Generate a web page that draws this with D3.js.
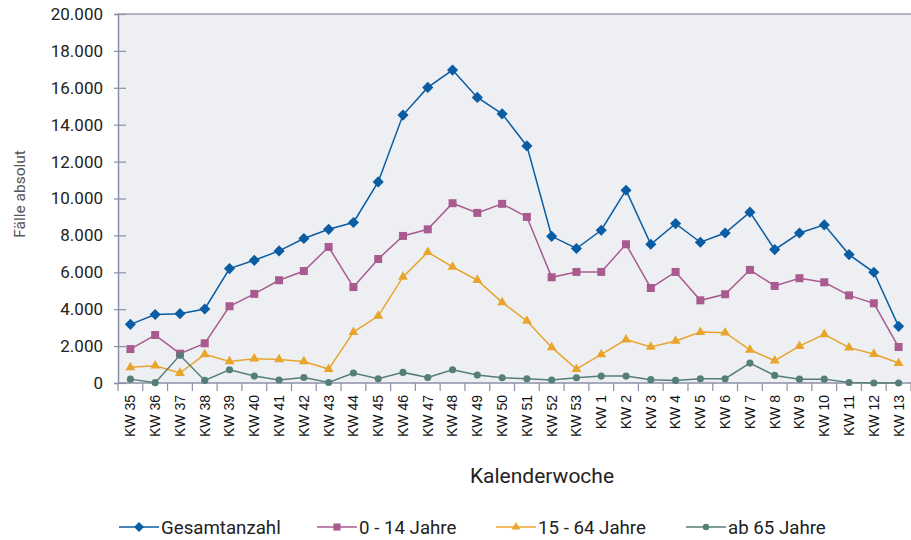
<!DOCTYPE html>
<html>
<head>
<meta charset="utf-8">
<script src="https://cdn.jsdelivr.net/npm/d3@7"></script>
<style>
  body { margin: 0; background: #fff; }
  text { font-family: Roboto, "Liberation Sans", sans-serif; }
</style>
</head>
<body>
<div id="chart"></div>
<script>
// categories (Kalenderwochen)
const weeks = ["KW 35","KW 36","KW 37","KW 38","KW 39","KW 40","KW 41","KW 42","KW 43","KW 44",
  "KW 45","KW 46","KW 47","KW 48","KW 49","KW 50","KW 51","KW 52","KW 53","KW 1","KW 2","KW 3",
  "KW 4","KW 5","KW 6","KW 7","KW 8","KW 9","KW 10","KW 11","KW 12","KW 13"];

// series values
const gesamt = [3180,3710,3760,4010,6200,6650,7160,7830,8330,8700,10900,14520,16020,16960,15480,14590,
  12850,7950,7290,8280,10450,7520,8640,7630,8130,9260,7230,8130,8570,6960,6000,3070];
const jahre0bis14 = [1840,2600,1590,2150,4160,4830,5570,6070,7370,5200,6720,7970,8330,9745,9220,9710,
  9000,5730,6020,6020,7520,5150,6020,4480,4810,6130,5260,5680,5460,4750,4320,1950];
const jahre15bis64 = [850,940,540,1550,1170,1320,1280,1170,755,2760,3630,5750,7090,6290,5570,4370,
  3360,1930,755,1550,2350,1950,2280,2760,2730,1800,1210,2000,2640,1915,1570,1080];
const ab65 = [210,20,1500,140,720,375,160,300,30,540,230,575,300,720,430,285,
  230,160,285,375,375,180,140,230,230,1080,410,210,210,30,0,0];

const seriesNames = ["Gesamtanzahl", "0 - 14 Jahre", "15 - 64 Jahre", "ab 65 Jahre"];
const yTicks = [0,2000,4000,6000,8000,10000,12000,14000,16000,18000,20000];

const series = [
  { name: seriesNames[0], values: gesamt, color: "#0a5ca3", symbol: d3.symbolSquare, size: 62, rotate: 45 },
  { name: seriesNames[1], values: jahre0bis14, color: "#a95b90", symbol: d3.symbolSquare, size: 64, rotate: 0 },
  { name: seriesNames[2], values: jahre15bis64, color: "#e9a42c", symbol: d3.symbolTriangle, size: 42, rotate: 0 },
  { name: seriesNames[3], values: ab65, color: "#557f76", symbol: d3.symbolCircle, size: 40, rotate: 0 }
];

const W = 911, H = 540;
const plotLeft = 118, plotRight = 911, plotTop = 14, plotBottom = 383;

const svg = d3.select("#chart").append("svg")
  .attr("width", W).attr("height", H);

const x = d3.scaleBand().domain(weeks).range([plotLeft, plotRight]);
const y = d3.scaleLinear().domain([0, 20000]).range([plotBottom, plotTop]);
const fmt = d3.formatLocale({ decimal: ",", thousands: ".", grouping: [3], currency: ["", "€"] }).format(",d");

// plot background
svg.append("rect")
  .attr("x", plotLeft).attr("y", plotTop)
  .attr("width", plotRight - plotLeft).attr("height", plotBottom - plotTop)
  .attr("fill", "#edeff3");

// top border
svg.append("line")
  .attr("x1", plotLeft).attr("x2", plotRight).attr("y1", plotTop).attr("y2", plotTop)
  .attr("stroke", "#9a9eb0").attr("stroke-width", 1.5);

// y axis
const yAxis = svg.append("g")
  .attr("transform", "translate(" + plotLeft + ",0)")
  .call(d3.axisLeft(y).tickValues(yTicks).tickFormat(fmt).tickSize(4).tickPadding(11));
yAxis.select(".domain").attr("stroke", "#8c91a6").attr("stroke-width", 1.5);
yAxis.selectAll(".tick line").attr("x1", 8).attr("stroke", "#8c91a6").attr("stroke-width", 1.2);
yAxis.selectAll(".tick text")
  .attr("font-size", 17).attr("fill", "#222")
  .style("font-family", "Roboto, sans-serif");

// x axis: ticks on the category boundaries
const xAxis = svg.append("g");
xAxis.selectAll("line.tk")
  .data(weeks.concat([null]))
  .enter().append("line")
  .attr("class", "tk")
  .attr("x1", (d, i) => plotLeft + i * x.step())
  .attr("x2", (d, i) => plotLeft + i * x.step())
  .attr("y1", plotBottom).attr("y2", plotBottom + 8)
  .attr("stroke", "#8c91a6").attr("stroke-width", 1.2);
xAxis.append("line")
  .attr("x1", plotLeft).attr("x2", plotRight).attr("y1", plotBottom).attr("y2", plotBottom)
  .attr("stroke", "#8c91a6").attr("stroke-width", 1.5);
xAxis.selectAll("text")
  .data(weeks)
  .enter().append("text")
  .attr("transform", d => "translate(" + (x(d) + x.bandwidth() / 2) + "," + 395 + ") rotate(-90)")
  .attr("dy", "0.35em")
  .attr("text-anchor", "end")
  .attr("font-size", 14)
  .attr("fill", "#111")
  .style("font-family", "'Liberation Sans', Arial, sans-serif")
  .text(d => d);

// axis titles
svg.append("text")
  .attr("transform", "translate(20,194) rotate(-90)")
  .attr("dy", "0.35em")
  .attr("text-anchor", "middle")
  .attr("font-size", 15.5)
  .attr("fill", "#555")
  .text("Fälle absolut");

svg.append("text")
  .attr("x", 542).attr("y", 483)
  .attr("text-anchor", "middle")
  .attr("font-size", 21)
  .attr("fill", "#222")
  .text("Kalenderwoche");

// lines and markers
const cx = i => x(weeks[i]) + x.bandwidth() / 2;
const line = d3.line().x((d, i) => cx(i)).y(d => y(d));

series.forEach(s => {
  svg.append("path")
    .datum(s.values)
    .attr("fill", "none")
    .attr("stroke", s.color)
    .attr("stroke-width", 1.5)
    .attr("d", line);
  svg.append("g").selectAll("path")
    .data(s.values)
    .enter().append("path")
    .attr("d", d3.symbol().type(s.symbol).size(s.size))
    .attr("transform", (d, i) => "translate(" + cx(i) + "," + y(d) + ") rotate(" + s.rotate + ")")
    .attr("fill", s.color);
});

// legend
const legendX = [119, 317, 496, 686];
const legend = svg.append("g");
series.forEach((s, i) => {
  const g = legend.append("g").attr("transform", "translate(" + legendX[i] + ",527)");
  g.append("line").attr("x1", 0).attr("x2", 40).attr("y1", 0).attr("y2", 0)
    .attr("stroke", s.color).attr("stroke-width", 1.5);
  g.append("path")
    .attr("d", d3.symbol().type(s.symbol).size(s.size * 0.8))
    .attr("transform", "translate(20,0) rotate(" + s.rotate + ")")
    .attr("fill", s.color);
  g.append("text")
    .attr("x", 42).attr("dy", "0.35em")
    .attr("font-size", 18.7)
    .attr("fill", "#222")
    .text(s.name);
});
</script>
</body>
</html>
